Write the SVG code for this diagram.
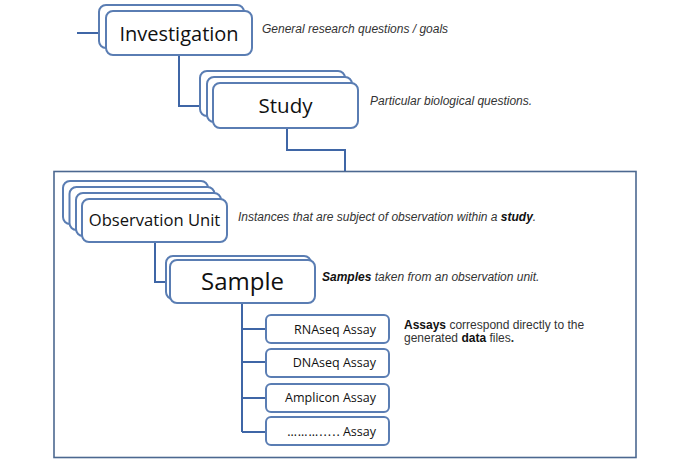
<svg xmlns="http://www.w3.org/2000/svg" width="675" height="471" viewBox="0 0 675 471">
<style>
.box{fill:#fff;stroke:#5a7db3;stroke-width:2}
.con{fill:none;stroke:#3f66a6;stroke-width:2}
.lbl{font-family:"Open Sans","Noto Sans",sans-serif;fill:#111;text-anchor:middle}
.as{font-family:"Open Sans","Noto Sans",sans-serif;fill:#111;font-size:12.5px;text-anchor:end}
.desc{font-family:"Liberation Sans",Arial,sans-serif;font-size:12px;fill:#333;font-style:italic}
.desc2{font-family:"Liberation Sans",Arial,sans-serif;font-size:12px;fill:#333}
</style>
<rect x="54" y="171.5" width="582" height="286" fill="#fff" stroke="#4c6890" stroke-width="1.6"/>
<g id="connectors">
<path class="con" d="M77 33H106"/>
<path class="con" d="M179 55V106H213"/>
<path class="con" d="M287 128V150H345V171"/>
<path class="con" d="M155 242V282H167"/>
<path class="con" d="M242 303V432"/>
<path class="con" d="M242 329H266M242 362H266M242 398H266M242 432H266"/>
</g>
<g id="investigation">
<rect class="box" x="99" y="5" width="145" height="43" rx="7"/>
<rect class="box" x="106" y="11" width="146" height="44" rx="7"/>
<text class="lbl" x="179" y="41" font-size="20">Investigation</text>
</g>
<text class="desc" x="262" y="33">General research questions / goals</text>
<g id="study">
<rect class="box" x="200" y="71" width="145" height="45" rx="7"/>
<rect class="box" x="207" y="77" width="145" height="45" rx="7"/>
<rect class="box" x="213" y="83" width="145" height="45" rx="7"/>
<text class="lbl" x="285.5" y="113" font-size="20.5">Study</text>
</g>
<text class="desc" x="370" y="105">Particular biological questions.</text>
<g id="observation-unit">
<rect class="box" x="63" y="181" width="145" height="43" rx="7"/>
<rect class="box" x="69.5" y="187" width="145" height="43" rx="7"/>
<rect class="box" x="76" y="193" width="145" height="43" rx="7"/>
<rect class="box" x="82" y="199" width="145" height="43" rx="7"/>
<text class="lbl" x="154.5" y="226" font-size="16.6">Observation Unit</text>
</g>
<text class="desc" x="238" y="221">Instances that are subject of observation within a <tspan font-weight="bold" fill="#111">study</tspan>.</text>
<g id="sample">
<rect class="box" x="166" y="256" width="145" height="43" rx="7"/>
<rect class="box" x="170" y="260" width="145" height="43" rx="7"/>
<text class="lbl" x="242.5" y="290" font-size="24">Sample</text>
</g>
<text class="desc" x="322" y="281"><tspan font-weight="bold" fill="#111">Samples</tspan> taken from an observation unit.</text>
<g id="rnaseq-assay">
<rect class="box" x="266" y="315" width="123" height="28" rx="5"/>
<text class="as" x="376" y="334">RNAseq Assay</text>
</g>
<g id="dnaseq-assay">
<rect class="box" x="266" y="349" width="123" height="28" rx="5"/>
<text class="as" x="376" y="367">DNAseq Assay</text>
</g>
<g id="amplicon-assay">
<rect class="box" x="266" y="384" width="123" height="28" rx="5"/>
<text class="as" x="376" y="402">Amplicon Assay</text>
</g>
<g id="other-assay">
<rect class="box" x="266" y="417" width="123" height="28" rx="5"/>
<text class="as" x="376" y="436"><tspan letter-spacing="1">………....</tspan>. Assay</text>
</g>
<text class="desc2" x="404" y="329"><tspan font-weight="bold" fill="#111">Assays</tspan> correspond directly to the</text>
<text class="desc2" x="404" y="342">generated <tspan font-weight="bold" fill="#111">data</tspan> files<tspan font-weight="bold">.</tspan></text>
</svg>
